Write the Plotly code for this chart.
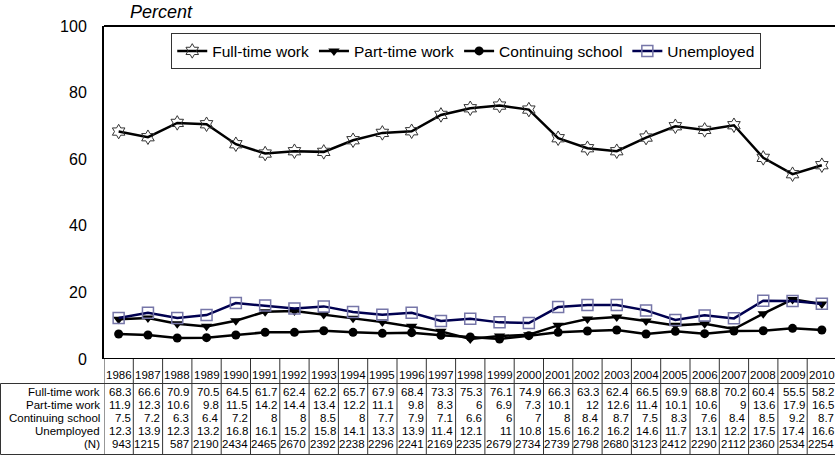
import plotly.graph_objects as go

years = [1986, 1987, 1988, 1989, 1990, 1991, 1992, 1993, 1994, 1995, 1996, 1997, 1998,
         1999, 2000, 2001, 2002, 2003, 2004, 2005, 2006, 2007, 2008, 2009, 2010]
full_time = [68.3, 66.6, 70.9, 70.5, 64.5, 61.7, 62.4, 62.2, 65.7, 67.9, 68.4, 73.3, 75.3,
             76.1, 74.9, 66.3, 63.3, 62.4, 66.5, 69.9, 68.8, 70.2, 60.4, 55.5, 58.2]
part_time = [11.9, 12.3, 10.6, 9.8, 11.5, 14.2, 14.4, 13.4, 12.2, 11.1, 9.8, 8.3, 6,
             6.9, 7.3, 10.1, 12, 12.6, 11.4, 10.1, 10.6, 9, 13.6, 17.9, 16.5]
school = [7.5, 7.2, 6.3, 6.4, 7.2, 8, 8, 8.5, 8, 7.7, 7.9, 7.1, 6.6,
          6, 7, 8, 8.4, 8.7, 7.5, 8.3, 7.6, 8.4, 8.5, 9.2, 8.7]
unemployed = [12.3, 13.9, 12.3, 13.2, 16.8, 16.1, 15.2, 15.8, 14.1, 13.3, 13.9, 11.4, 12.1,
              11, 10.8, 15.6, 16.2, 16.2, 14.6, 11.7, 13.1, 12.2, 17.5, 17.4, 16.6]
n_counts = [943, 1215, 587, 2190, 2434, 2465, 2670, 2392, 2238, 2296, 2241, 2169, 2235,
            2679, 2734, 2739, 2798, 2680, 3123, 2412, 2290, 2112, 2360, 2534, 2254]
row_labels = ["Full-time work", "Part-time work", "Continuing school", "Unemployed", "(N)"]
y_ticks = [0, 20, 40, 60, 80, 100]

FONT = "Liberation Sans, Arial, sans-serif"
W, H = 835, 465
ML, MT, MB = 104, 26, 105.5
TFS = 11.5  # table font size

fig = go.Figure()
fig.add_trace(go.Scatter(x=years, y=full_time, name="Full-time work", mode="lines+markers",
                         line=dict(color="black", width=2.5),
                         marker=dict(symbol="hexagram-open", size=11, color="#333333",
                                     line=dict(width=1, color="#333333"))))
fig.add_trace(go.Scatter(x=years, y=part_time, name="Part-time work", mode="lines+markers",
                         line=dict(color="black", width=2.5),
                         marker=dict(symbol="triangle-down", size=10, color="black")))
fig.add_trace(go.Scatter(x=years, y=school, name="Continuing school", mode="lines+markers",
                         line=dict(color="black", width=2.5),
                         marker=dict(symbol="circle", size=9, color="black")))
fig.add_trace(go.Scatter(x=years, y=unemployed, name="Unemployed", mode="lines+markers",
                         line=dict(color="#000050", width=2.5),
                         marker=dict(symbol="square-open", size=11, color="#7676a8",
                                     line=dict(width=1.5, color="#7676a8"))))

px_per_year = 29.3
plot_w = W - ML
x_lo = years[0] - 0.5
x_hi = x_lo + plot_w / px_per_year

def fmt(v):
    return f"{v:g}"

annotations = []
for yr in years:
    annotations.append(dict(x=yr, y=0, xref="x", yref="paper", text=str(yr), showarrow=False,
                            xanchor="center", yanchor="middle", yshift=-15.5, borderpad=0,
                            font=dict(size=TFS, color="black", family=FONT)))
rows = [full_time, part_time, school, unemployed, n_counts]
row_y = [-32.5, -45.5, -58.5, -71.5, -84.5]
for lab, vals, dy in zip(row_labels, rows, row_y):
    annotations.append(dict(x=0, y=0, xref="paper", yref="paper", text=lab, showarrow=False,
                            xanchor="right", yanchor="middle", xshift=-3, yshift=dy,
                            borderpad=0,
                            font=dict(size=TFS, color="black", family=FONT)))
    for yr, v in zip(years, vals):
        annotations.append(dict(x=yr, y=0, xref="x", yref="paper", text=fmt(v), showarrow=False,
                                xanchor="right", yanchor="middle", xshift=13, yshift=dy,
                                borderpad=0,
                                font=dict(size=TFS, color="black", family=FONT)))

annotations.append(dict(x=0, y=1, xref="paper", yref="paper", text="<i>Percent</i>",
                        showarrow=False, xanchor="left", yanchor="middle", xshift=24, yshift=14,
                        font=dict(size=18, color="black", family=FONT)))

shapes = []
tbl_col = "#333333"
for yr in [years[0] - 0.5] + [y + 0.5 for y in years]:
    shapes.append(dict(type="line", xref="x", x0=yr, x1=yr, yref="paper", ysizemode="pixel",
                       yanchor=0, y0=0, y1=-96, line=dict(color=tbl_col, width=1)))
for dy in [-24.5, -95.5]:
    shapes.append(dict(type="line", xref="paper", xsizemode="pixel", xanchor=0,
                       x0=-ML + 0.5, x1=plot_w + 5, yref="paper", ysizemode="pixel",
                       yanchor=0, y0=dy, y1=dy, line=dict(color=tbl_col, width=1)))
shapes.append(dict(type="line", xref="paper", xsizemode="pixel", xanchor=0, x0=-ML + 0.5,
                   x1=-ML + 0.5, yref="paper", ysizemode="pixel", yanchor=0, y0=-24.5, y1=-95.5,
                   line=dict(color=tbl_col, width=1)))
shapes.append(dict(type="line", xref="paper", x0=0, x1=1, yref="paper", y0=1, y1=1,
                   line=dict(color="black", width=2)))
shapes.append(dict(type="line", xref="paper", x0=0, x1=1, yref="y", y0=0, y1=0,
                   line=dict(color="black", width=2)))

fig.update_layout(
    width=W, height=H,
    margin=dict(l=ML, r=0, t=MT, b=MB, pad=0),
    paper_bgcolor="white", plot_bgcolor="white",
    font=dict(family=FONT, color="black", size=15),
    showlegend=True,
    legend=dict(orientation="h", x=0.092, y=0.978, xanchor="left", yanchor="top",
                bgcolor="white", bordercolor="#333333", borderwidth=1,
                font=dict(size=15.5, family=FONT, color="black"),
                itemwidth=30, tracegroupgap=0),
    xaxis=dict(range=[x_lo, x_hi], showgrid=False, zeroline=False, showline=False,
               showticklabels=False, ticks="", fixedrange=True),
    yaxis=dict(range=[0, 100], tickvals=y_ticks, showgrid=False, zeroline=False,
               showline=True, linecolor="black", linewidth=2, ticks="",
               ticklabelstandoff=12, tickfont=dict(size=16, family=FONT, color="black"),
               fixedrange=True),
    annotations=annotations,
    shapes=shapes,
)

fig.write_html("out.html", config={"displayModeBar": False},
               post_script="document.body.style.margin='0';document.body.style.overflow='hidden';")
